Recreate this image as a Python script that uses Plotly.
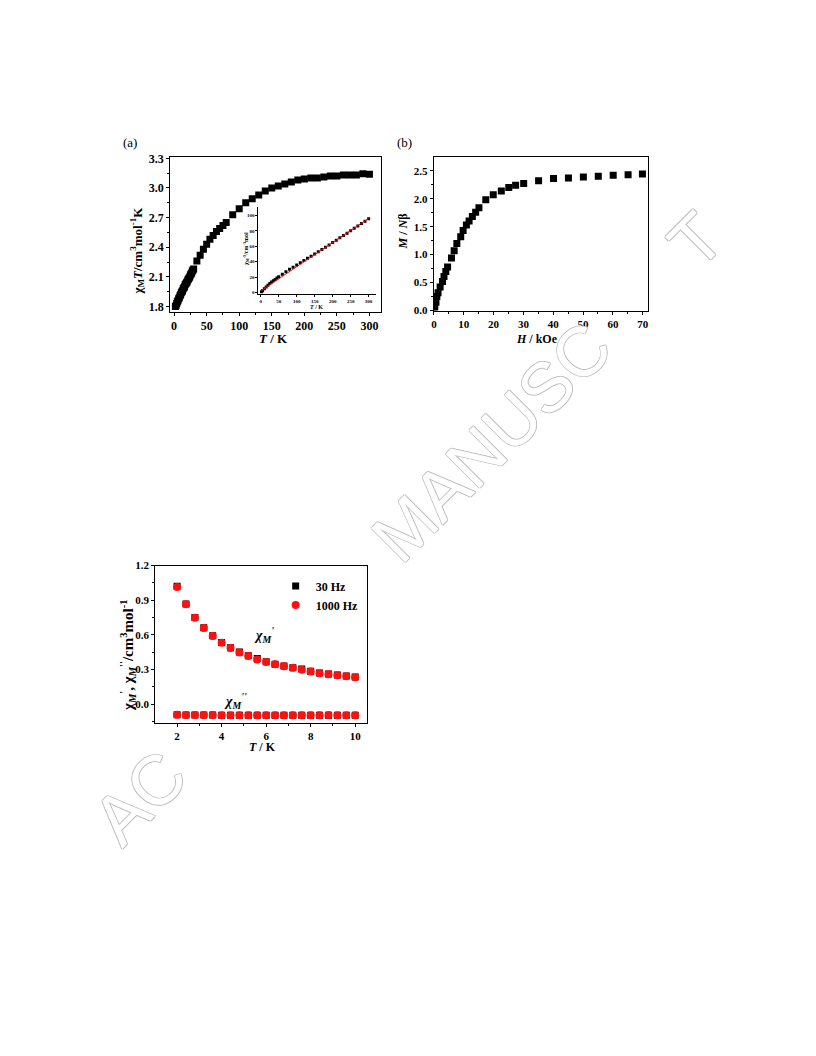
import plotly.graph_objects as go

# ---------------- data ----------------
# (a) chi_M T vs T
T_a = [2, 3, 4, 5, 6, 7, 8, 9, 10, 11, 12, 13, 14, 15, 16, 17, 18, 19, 20, 21, 22, 23, 24, 25, 26, 27, 28, 29, 30,
       35, 40, 45, 50, 55, 60, 65, 70, 75, 80, 90, 100, 110, 120, 130, 140, 150, 160, 170, 180, 190, 200,
       210, 220, 230, 240, 250, 260, 270, 280, 290, 300]
chiT_a = [1.80, 1.81, 1.83, 1.85, 1.86, 1.88, 1.89, 1.91, 1.92, 1.94, 1.95, 1.96, 1.98, 1.99, 2.00, 2.02, 2.03,
          2.04, 2.05, 2.07, 2.08, 2.09, 2.10, 2.12, 2.13, 2.14, 2.16, 2.17, 2.18,
          2.26, 2.32, 2.38, 2.43, 2.48, 2.52, 2.56, 2.59, 2.62, 2.65, 2.73, 2.79, 2.85, 2.89, 2.93, 2.97, 3.00,
          3.02, 3.04, 3.06, 3.08, 3.09, 3.10, 3.10, 3.11, 3.12, 3.12, 3.13, 3.13, 3.13, 3.145, 3.14]

# inset: 1/chi_M vs T
T_in = [2, 5, 10, 15, 20, 25, 30, 35, 40, 45, 50, 60, 70, 80, 90, 100, 110, 120, 130, 140, 150, 160, 170, 180,
        190, 200, 210, 220, 230, 240, 250, 260, 270, 280, 290, 300]
invchi_in = [1.1, 2.7, 5.2, 7.5, 9.8, 11.8, 13.8, 15.5, 17.2, 18.9, 20.6, 23.8, 27.0, 30.2, 33.0, 35.8, 38.6, 41.5,
             44.4, 47.1, 50.0, 53.0, 55.9, 58.8, 61.7, 64.7, 67.7, 71.0, 74.0, 76.9, 80.1, 83.1, 86.3, 89.5, 92.2, 95.5]
T_fit = [2, 300]
invchi_fit = [3.0, 96.0]

# (b) M vs H
H_b = [0.1, 0.3, 0.7, 1.0, 1.4, 2.1, 2.9, 3.4, 4.0, 4.6, 5.9, 6.8, 7.7, 9.0, 9.8, 10.9, 11.8, 12.9, 14.0, 15.1,
       17.4, 19.9, 22.6, 25.1, 27.4, 30.1, 35.1, 40.1, 45.1, 50.1, 55.1, 60.1, 65.1, 69.9]
M_b = [0.02, 0.07, 0.15, 0.25, 0.32, 0.42, 0.52, 0.61, 0.70, 0.78, 0.94, 1.07, 1.20, 1.32, 1.43, 1.53, 1.60, 1.68,
       1.76, 1.84, 1.98, 2.07, 2.14, 2.20, 2.24, 2.27, 2.32, 2.36, 2.37, 2.39, 2.40, 2.42, 2.43, 2.44]

# (c) ac susceptibility
T_c = [2.0, 2.4, 2.8, 3.2, 3.6, 4.0, 4.4, 4.8, 5.2, 5.6, 6.0, 6.4, 6.8, 7.2, 7.6, 8.0, 8.4, 8.8, 9.2, 9.6, 10.0]
chi1_30 = [1.02, 0.868, 0.75, 0.662, 0.592, 0.535, 0.489, 0.451, 0.42, 0.396, 0.368, 0.346, 0.33, 0.316, 0.304,
           0.285, 0.27, 0.261, 0.252, 0.245, 0.236]
chi1_1000 = [1.015, 0.866, 0.748, 0.66, 0.59, 0.532, 0.487, 0.448, 0.417, 0.388, 0.366, 0.345, 0.328, 0.315, 0.298,
             0.283, 0.268, 0.26, 0.251, 0.243, 0.234]
chi2_30 = [-0.092, -0.094, -0.094, -0.094, -0.094, -0.095, -0.095, -0.095, -0.095, -0.095, -0.095, -0.095, -0.095,
           -0.095, -0.095, -0.095, -0.095, -0.095, -0.095, -0.095, -0.095]
chi2_1000 = [-0.09, -0.093, -0.094, -0.094, -0.094, -0.095, -0.095, -0.095, -0.095, -0.096, -0.095, -0.095, -0.095,
             -0.095, -0.095, -0.096, -0.095, -0.094, -0.096, -0.095, -0.096]
legend_names = ["30 Hz", "1000 Hz"]

# page is 816x1056 with the browser's 8px body margin -> figure 800x1040
OFF = 8
W, H = 816 - 2 * OFF, 1056 - 2 * OFF
SERIF = "Liberation Serif"


def px(x):
    return (x - OFF) / W


def py(y):
    return 1 - (y - OFF) / H


def axis(dom, rng, dtick, anchor, size=12, fmt=None, minor=None, ticklen=3, lw=1.2, mirror=True, tick0=0):
    d = dict(domain=dom, range=rng, anchor=anchor, showline=True, linecolor="black", linewidth=lw,
             mirror=mirror, ticks="outside", ticklen=ticklen, tickwidth=1, tickcolor="black",
             dtick=dtick, tick0=tick0, showgrid=False, zeroline=False,
             tickfont=dict(family=SERIF, size=size, color="black", weight="bold"))
    if fmt:
        d["tickformat"] = fmt
    if minor:
        d["minor"] = dict(ticks="outside", ticklen=2, dtick=minor, tickcolor="black",
                          tickwidth=1, showgrid=False)
    return d


fig = go.Figure()

# (a) main
fig.add_trace(go.Scatter(x=T_a, y=chiT_a, mode="markers", xaxis="x", yaxis="y", showlegend=False,
                         marker=dict(symbol="square", size=7, color="black")))
# inset
fig.add_trace(go.Scatter(x=T_in, y=invchi_in, mode="markers", xaxis="x2", yaxis="y2", showlegend=False,
                         marker=dict(symbol="square", size=3, color="black")))
fig.add_trace(go.Scatter(x=T_fit, y=invchi_fit, mode="lines", xaxis="x2", yaxis="y2", showlegend=False,
                         line=dict(color="red", width=1)))
# (b)
fig.add_trace(go.Scatter(x=H_b, y=M_b, mode="markers", xaxis="x3", yaxis="y3", showlegend=False,
                         marker=dict(symbol="square", size=7, color="black")))
# (c)
fig.add_trace(go.Scatter(x=T_c, y=chi1_30, mode="markers", xaxis="x4", yaxis="y4", name=legend_names[0],
                         marker=dict(symbol="square", size=7, color="black")))
fig.add_trace(go.Scatter(x=T_c, y=chi2_30, mode="markers", xaxis="x4", yaxis="y4", showlegend=False,
                         marker=dict(symbol="square", size=7, color="black")))
fig.add_trace(go.Scatter(x=T_c, y=chi1_1000, mode="markers", xaxis="x4", yaxis="y4", name=legend_names[1],
                         marker=dict(symbol="circle", size=8, color="#ff1010")))
fig.add_trace(go.Scatter(x=T_c, y=chi2_1000, mode="markers", xaxis="x4", yaxis="y4", showlegend=False,
                         marker=dict(symbol="circle", size=8, color="#ff1010")))

layout = dict(
    width=W, height=H, autosize=False, margin=dict(l=0, r=0, t=0, b=0),
    paper_bgcolor="white", plot_bgcolor="rgba(0,0,0,0)",
    xaxis=axis([px(168), px(380)], [-6, 318], 50, "y", size=12, minor=25),
    yaxis=axis([py(309), py(153)], [1.75, 3.31], 0.3, "x", size=12, fmt=".1f", tick0=1.8, minor=0.15),
    xaxis2=axis([px(256.7), px(375)], [-6.4, 321], 50, "y2", size=5, ticklen=2, lw=1, mirror=False),
    yaxis2=axis([py(291.7), py(203)], [-2.2, 111], 20, "x2", size=5, ticklen=2, lw=1, mirror=False),
    xaxis3=axis([px(433), px(648)], [0, 71.7], 10, "y3", size=11, minor=5),
    yaxis3=axis([py(308), py(153)], [0, 2.74], 0.5, "x3", size=11, fmt=".1f", minor=0.25),
    xaxis4=axis([px(153), px(366)], [1.02, 10.54], 2, "y4", size=11, minor=1),
    yaxis4=axis([py(725), py(566)], [-0.16, 1.2], 0.3, "x4", size=11, fmt=".1f", minor=0.15),
    legend=dict(x=px(274), y=py(572), xanchor="left", yanchor="top", bgcolor="rgba(0,0,0,0)",
                font=dict(family=SERIF, size=12, color="black", weight="bold"), tracegroupgap=0,
                itemsizing="trace"),
)
fig.update_layout(**layout)

ann = []


def txt(x, y, text, size=13, angle=0, bold=True, family=SERIF, color="black"):
    ann.append(dict(x=px(x), y=py(y), xref="paper", yref="paper", text=text, showarrow=False,
                    textangle=angle, xanchor="center", yanchor="middle",
                    font=dict(family=family, size=size, color=color, weight="bold" if bold else "normal")))


# panel labels
txt(128, 138, "(a)", size=13, bold=False)
txt(403, 138, "(b)", size=13, bold=False)
# (a) titles
txt(272, 336, "<i>T</i> / K", size=13)
txt(135, 247, "χ<sub>M</sub><i>T</i>/cm<sup>3</sup>mol<sup>-1</sup>K", size=13, angle=-90)
# inset titles
txt(315, 304, "<i>T</i> / K", size=6)
txt(244, 246, "χ<sub>M</sub><sup>-1</sup>/cm<sup>-3</sup>mol", size=6, angle=-90)
# (b) titles
txt(537, 337, "<i>H</i> / kOe", size=12)
txt(402, 228, "<i>M</i> / <i>N</i>β", size=12, angle=-90)
# (c) titles
txt(261, 750, "<i>T</i> / K", size=12)
txt(125, 657, "χ<sub><i>M</i></sub><sup>'</sup>, χ<sub><i>M</i></sub><sup>''</sup>/cm<sup>3</sup>mol<sup>-1</sup>",
    size=15, angle=-90)
txt(262, 636, "<i>χ<sub>M</sub><sup>'</sup></i>", size=14)
txt(234, 703, "<i>χ<sub>M</sub><sup>''</sup></i>", size=14)

# watermark pieces (visible parts of "ACCEPTED MANUSCRIPT")
wm = "#bdbdbd"
shadow = f"1px 0 0 {wm}, -1px 0 0 {wm}, 0 1px 0 {wm}, 0 -1px 0 {wm}"
for t, (x, y) in [("AC", (137, 801)), ("MANUSC", (491, 441)), ("T", (697, 237))]:
    ann.append(dict(x=px(x), y=py(y), xref="paper", yref="paper", text=t, showarrow=False, textangle=-45,
                    xanchor="center", yanchor="middle",
                    font=dict(family="Liberation Sans", size=70, color="white", shadow=shadow)))

fig.update_layout(annotations=ann)
fig.write_html("out.html")
